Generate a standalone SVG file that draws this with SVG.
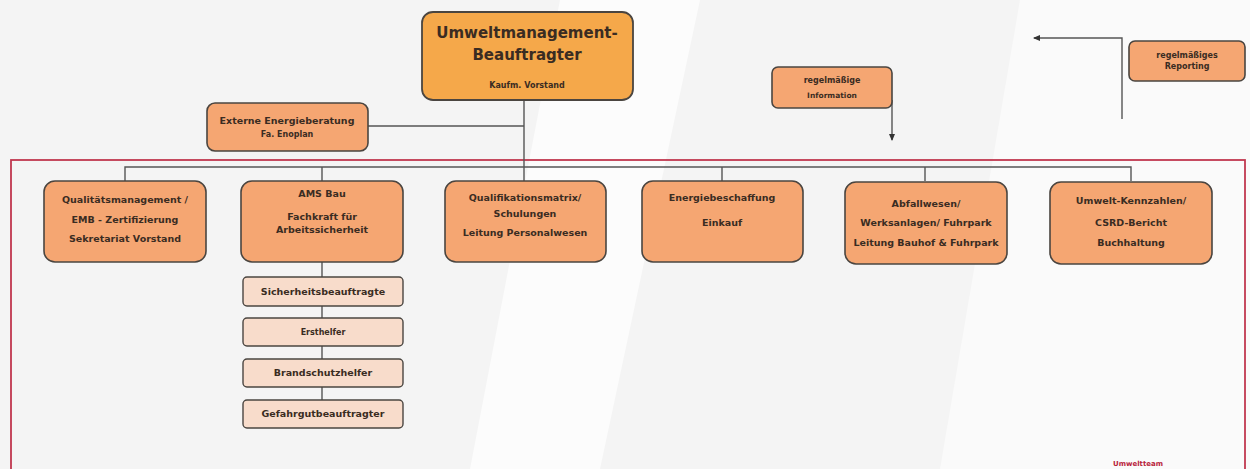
<svg xmlns="http://www.w3.org/2000/svg" width="1250" height="469" viewBox="0 0 1250 469">
<defs>
<style>
.bg{fill:#f4f4f4}
.box{fill:#f5a672;stroke:#4a4540;stroke-width:1.6}
.top{fill:#f5a84a;stroke:#4a4540;stroke-width:1.8}
.sub{fill:#f8dccb;stroke:#4a4540;stroke-width:1.4}
.ln{fill:none;stroke:#555;stroke-width:1.4}
.t{font-family:"DejaVu Sans",Verdana,sans-serif;font-weight:bold;fill:#3a2c22;text-anchor:middle}
.s{font-size:9.5px}
.xs{font-size:8px}
</style>
<marker id="ah" viewBox="0 0 8 8" refX="6" refY="4" markerWidth="6" markerHeight="6" orient="auto">
<path d="M0,1 L7,4 L0,7 z" fill="#333"/>
</marker>
</defs>
<rect class="bg" width="1250" height="469"/>
<polygon points="560,0 700,0 600,469 470,469" fill="#fcfcfc"/>
<polygon points="1020,0 1250,0 1250,469 940,469" fill="#fafafa"/>
<rect x="11" y="160" width="1234" height="320" fill="none" stroke="#c0384f" stroke-width="1.8"/>
<text class="t" x="1138" y="466" font-size="7px" style="fill:#b8243c">Umweltteam</text>
<g id="connectors">
<path class="ln" d="M524,100 V181"/>
<path class="ln" d="M368,126 H524"/>
<path class="ln" d="M125,181 V167 H1131 V181"/>
<path class="ln" d="M322,167 V181"/>
<path class="ln" d="M722,167 V181"/>
<path class="ln" d="M925,167 V181"/>
<path class="ln" d="M322,262 V400"/>
<path class="ln" d="M892,100 V140" marker-end="url(#ah)"/>
<path class="ln" d="M1122,119 V38 H1034" marker-end="url(#ah)"/>
</g>
<g id="n-top">
<rect class="top" x="422" y="12" width="211" height="88" rx="11"/>
<text class="t" x="527" y="38" font-size="15px">Umweltmanagement-</text>
<text class="t" x="527" y="60" font-size="15px">Beauftragter</text>
<text class="t xs" x="527" y="88">Kaufm. Vorstand</text>
</g>
<g id="n-extern">
<rect class="box" x="207" y="103" width="161" height="48" rx="8"/>
<text class="t s" x="287" y="124">Externe Energieberatung</text>
<text class="t xs" x="287" y="137">Fa. Enoplan</text>
</g>
<g id="n-info">
<rect class="box" x="772" y="67" width="120" height="41" rx="6"/>
<text class="t xs" x="832" y="83">regelmäßige</text>
<text class="t" x="832" y="98" font-size="7.5px">Information</text>
</g>
<g id="n-report">
<rect class="box" x="1129" y="41" width="116" height="40" rx="6"/>
<text class="t xs" x="1187" y="58">regelmäßiges</text>
<text class="t xs" x="1187" y="69">Reporting</text>
</g>
<g id="n-qm">
<rect class="box" x="44" y="181" width="162" height="81" rx="11"/>
<text class="t s" x="125" y="203">Qualitätsmanagement /</text>
<text class="t s" x="125" y="223">EMB - Zertifizierung</text>
<text class="t s" x="125" y="242">Sekretariat Vorstand</text>
</g>
<g id="n-ams">
<rect class="box" x="241" y="181" width="162" height="81" rx="11"/>
<text class="t s" x="322" y="197">AMS Bau</text>
<text class="t s" x="322" y="220">Fachkraft für</text>
<text class="t s" x="322" y="233">Arbeitssicherheit</text>
</g>
<g id="n-quali">
<rect class="box" x="445" y="181" width="161" height="81" rx="11"/>
<text class="t s" x="525" y="201">Qualifikationsmatrix/</text>
<text class="t s" x="525" y="217">Schulungen</text>
<text class="t s" x="525" y="236">Leitung Personalwesen</text>
</g>
<g id="n-energie">
<rect class="box" x="642" y="181" width="161" height="81" rx="11"/>
<text class="t s" x="722" y="201">Energiebeschaffung</text>
<text class="t s" x="722" y="226">Einkauf</text>
</g>
<g id="n-abfall">
<rect class="box" x="845" y="182" width="162" height="82" rx="11"/>
<text class="t s" x="926" y="207">Abfallwesen/</text>
<text class="t s" x="926" y="226">Werksanlagen/ Fuhrpark</text>
<text class="t s" x="926" y="246">Leitung Bauhof &amp; Fuhrpark</text>
</g>
<g id="n-umwelt">
<rect class="box" x="1050" y="182" width="162" height="82" rx="11"/>
<text class="t s" x="1131" y="204">Umwelt-Kennzahlen/</text>
<text class="t s" x="1131" y="226">CSRD-Bericht</text>
<text class="t s" x="1131" y="246">Buchhaltung</text>
</g>
<g id="n-sich">
<rect class="sub" x="243" y="277" width="160" height="29" rx="4"/>
<text class="t s" x="323" y="295">Sicherheitsbeauftragte</text>
</g>
<g id="n-erst">
<rect class="sub" x="243" y="318" width="160" height="28" rx="4"/>
<text class="t xs" x="323" y="335">Ersthelfer</text>
</g>
<g id="n-brand">
<rect class="sub" x="243" y="359" width="160" height="28" rx="4"/>
<text class="t s" x="323" y="376">Brandschutzhelfer</text>
</g>
<g id="n-gefahr">
<rect class="sub" x="243" y="400" width="160" height="28" rx="4"/>
<text class="t s" x="323" y="417">Gefahrgutbeauftragter</text>
</g>
</svg>
